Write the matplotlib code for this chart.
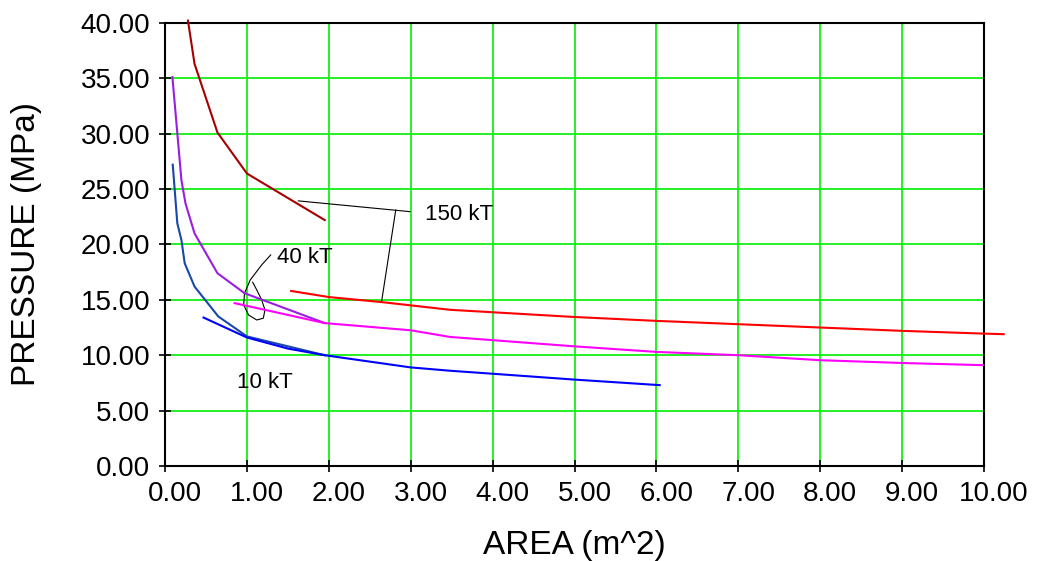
import matplotlib
matplotlib.use("Agg")
import matplotlib.pyplot as plt
from matplotlib.transforms import ScaledTranslation

plt.rcParams['font.family'] = ['Liberation Sans', 'DejaVu Sans']

# 150 kT
area_150_short = [0.28, 0.36, 0.64, 1.00, 1.95]
pres_150_short = [40.2, 36.3, 30.1, 26.4, 22.2]
area_150_long = [1.54, 2.00, 2.64, 3.48, 5.00, 6.00, 7.00, 8.00, 9.00, 10.00, 10.24]
pres_150_long = [15.8, 15.25, 14.8, 14.1, 13.45, 13.1, 12.8, 12.5, 12.2, 11.95, 11.9]

# 40 kT
area_40_short = [0.09, 0.20, 0.25, 0.36, 0.64, 0.97, 1.95]
pres_40_short = [35.1, 25.8, 23.7, 21.0, 17.4, 15.6, 12.9]
area_40_long = [0.85, 1.95, 3.00, 3.48, 5.00, 6.00, 7.00, 8.00, 9.00, 10.00]
pres_40_long = [14.7, 12.9, 12.25, 11.65, 10.8, 10.3, 10.0, 9.55, 9.3, 9.1]

# 10 kT
area_10_short = [0.094, 0.15, 0.20, 0.24, 0.36, 0.65, 1.00, 1.95]
pres_10_short = [27.2, 21.9, 20.4, 18.3, 16.2, 13.5, 11.7, 10.0]
area_10_long = [0.47, 1.00, 1.50, 1.95, 3.00, 3.48, 3.96, 5.00, 6.04]
pres_10_long = [13.4, 11.6, 10.6, 10.0, 8.9, 8.6, 8.35, 7.8, 7.3]

x_ticks = [0, 1, 2, 3, 4, 5, 6, 7, 8, 9, 10]
y_ticks = [0, 5, 10, 15, 20, 25, 30, 35, 40]

fig = plt.figure(figsize=(10.38, 5.61), dpi=100)
ax = fig.add_axes([0.159, 0.1693, 0.789, 0.79])

lw = 1.5
ax.plot(area_150_short, pres_150_short, color='#a80000', lw=lw, clip_on=False, zorder=3)
ax.plot(area_150_long, pres_150_long, color='#ff0000', lw=lw, clip_on=False, zorder=3)
ax.plot(area_40_short, pres_40_short, color='#9a1ee0', lw=lw, zorder=3)
ax.plot(area_40_long, pres_40_long, color='#ff00ff', lw=lw, zorder=3)
ax.plot(area_10_short, pres_10_short, color='#1848a8', lw=lw, zorder=3)
ax.plot(area_10_long, pres_10_long, color='#0000ff', lw=lw, zorder=3)

# leader lines
ax.plot([1.627, 2.99], [23.93, 22.96], color='black', lw=0.8)
ax.plot([2.817, 2.646], [23.11, 14.93], color='black', lw=0.8)
loop_x = [1.29, 1.18, 1.04, 0.97, 0.96, 1.02, 1.12, 1.20, 1.22, 1.18, 1.12, 1.07]
loop_y = [19.05, 18.15, 16.79, 15.59, 14.54, 13.63, 13.18, 13.34, 14.09, 14.99, 15.89, 16.59]
ax.plot(loop_x, loop_y, color='black', lw=0.8)

ax.text(3.17, 22.66, '150 kT', fontsize=16, ha='left', va='center')
ax.text(1.37, 18.8, '40 kT', fontsize=16, ha='left', va='center')
ax.text(0.875, 7.58, '10 kT', fontsize=16, ha='left', va='center')

ax.set_xlim(0, 10)
ax.set_ylim(0, 40)
ax.set_xticks(x_ticks)
ax.set_yticks(y_ticks)
ax.set_xticklabels([f'{v:.2f}' for v in x_ticks])
ax.set_yticklabels([f'{v:.2f}' for v in y_ticks])
ax.tick_params(direction='inout', length=9, width=1.2, labelsize=20, pad=6)
# x tick labels sit a little to the right of their ticks in the original
shift = ScaledTranslation(10 / 100, 0, fig.dpi_scale_trans)
for lab in ax.get_xticklabels():
    lab.set_transform(lab.get_transform() + shift)
ax.grid(True, color='#00ee00', lw=1.2)
ax.set_axisbelow(True)
for s in ax.spines.values():
    s.set_linewidth(1.5)

ax.set_xlabel('AREA (m^2)', fontsize=24, labelpad=17)
ax.set_ylabel('PRESSURE (MPa)', fontsize=24, labelpad=28)

fig.savefig('out.png', dpi=100)
